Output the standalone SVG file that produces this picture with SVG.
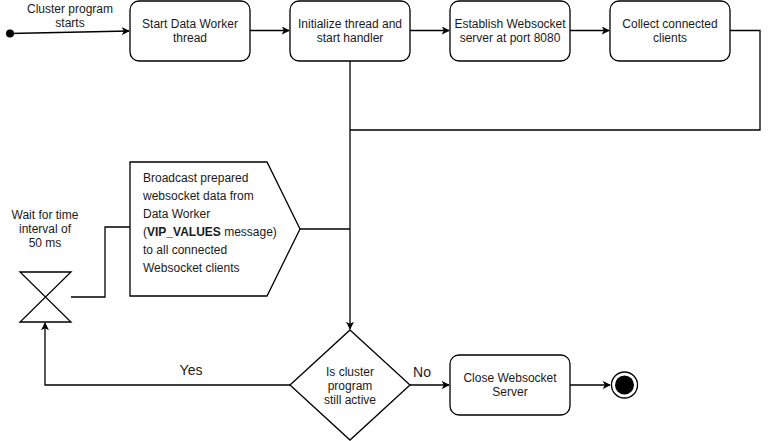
<svg xmlns="http://www.w3.org/2000/svg" width="770" height="441" viewBox="0 0 770 441">
<style>
.n{fill:#fff;stroke:#000;stroke-width:1.3}
.e{fill:none;stroke:#000;stroke-width:1.3}
text{font-family:"Liberation Sans",Arial,sans-serif;font-size:12px;fill:#1a1a1a}
.c{text-anchor:middle}
.big{font-size:14px}
</style>
<defs>
<marker id="a" viewBox="0 0 10 10" refX="9" refY="5" markerWidth="8" markerHeight="8" markerUnits="userSpaceOnUse" orient="auto">
<path d="M0,0 L10,5 L0,10 L2.5,5 Z" fill="#000"/>
</marker>
</defs>
<rect width="770" height="441" fill="#fff"/>
<g id="connectors">
<line class="e" x1="10" y1="33.5" x2="129" y2="31" marker-end="url(#a)"/>
<line class="e" x1="250" y1="30.5" x2="289" y2="30.5" marker-end="url(#a)"/>
<line class="e" x1="410" y1="30.5" x2="449" y2="30.5" marker-end="url(#a)"/>
<line class="e" x1="570" y1="30.5" x2="609" y2="30.5" marker-end="url(#a)"/>
<polyline class="e" points="730,30.5 760,30.5 760,130 350,130"/>
<line class="e" x1="350" y1="61" x2="350" y2="329" marker-end="url(#a)"/>
<line class="e" x1="300" y1="229" x2="350" y2="229"/>
<polyline class="e" points="71,297 105,297 105,227 130,227"/>
<polyline class="e" points="290,385 45,385 45,323" marker-end="url(#a)"/>
<line class="e" x1="410" y1="385" x2="449" y2="385" marker-end="url(#a)"/>
<line class="e" x1="570" y1="385" x2="610" y2="385" marker-end="url(#a)"/>
<text class="c" x="70" y="13">Cluster program</text>
<text class="c" x="70" y="27">starts</text>
<text class="c big" x="191" y="375">Yes</text>
<text class="c big" x="422" y="377">No</text>
</g>
<g id="start"><circle cx="10" cy="33.5" r="4" fill="#000"/></g>
<g id="n1"><rect class="n" x="130" y="1" width="120" height="60" rx="9"/>
<text class="c" x="190" y="28">Start Data Worker</text><text class="c" x="190" y="42">thread</text></g>
<g id="n2"><rect class="n" x="290" y="1" width="120" height="60" rx="9"/>
<text class="c" x="350" y="28">Initialize thread and</text><text class="c" x="350" y="42">start handler</text></g>
<g id="n3"><rect class="n" x="450" y="1" width="120" height="60" rx="9"/>
<text class="c" x="510" y="28">Establish Websocket</text><text class="c" x="510" y="42">server at port 8080</text></g>
<g id="n4"><rect class="n" x="610" y="1" width="120" height="60" rx="9"/>
<text class="c" x="670" y="28">Collect connected</text><text class="c" x="670" y="42">clients</text></g>
<g id="broadcast"><polygon class="n" points="130,162 267,162 300,229 267,296 130,296"/>
<text x="143" y="182">Broadcast prepared</text>
<text x="143" y="200">websocket data from</text>
<text x="143" y="218">Data Worker</text>
<text x="143" y="236">(<tspan font-weight="bold">VIP_VALUES</tspan> message)</text>
<text x="143" y="254">to all connected</text>
<text x="143" y="272">Websocket clients</text></g>
<g id="wait"><path class="e" d="M20,272 L71,272 L20,322 L71,322 Z"/>
<text class="c" x="45" y="219">Wait for time</text>
<text class="c" x="45" y="233">interval of</text>
<text class="c" x="45" y="247">50 ms</text></g>
<g id="decision"><polygon class="n" points="350,330 410,385 350,440 290,385"/>
<text class="c" x="350" y="376">Is cluster</text>
<text class="c" x="350" y="390">program</text>
<text class="c" x="350" y="404">still active</text></g>
<g id="close"><rect class="n" x="450" y="355" width="120" height="60" rx="9"/>
<text class="c" x="510" y="382">Close Websocket</text><text class="c" x="510" y="396">Server</text></g>
<g id="end"><circle cx="624.5" cy="385" r="13" fill="#fff" stroke="#000" stroke-width="1.3"/><circle cx="624.5" cy="385" r="9.5" fill="#000"/></g>
</svg>
